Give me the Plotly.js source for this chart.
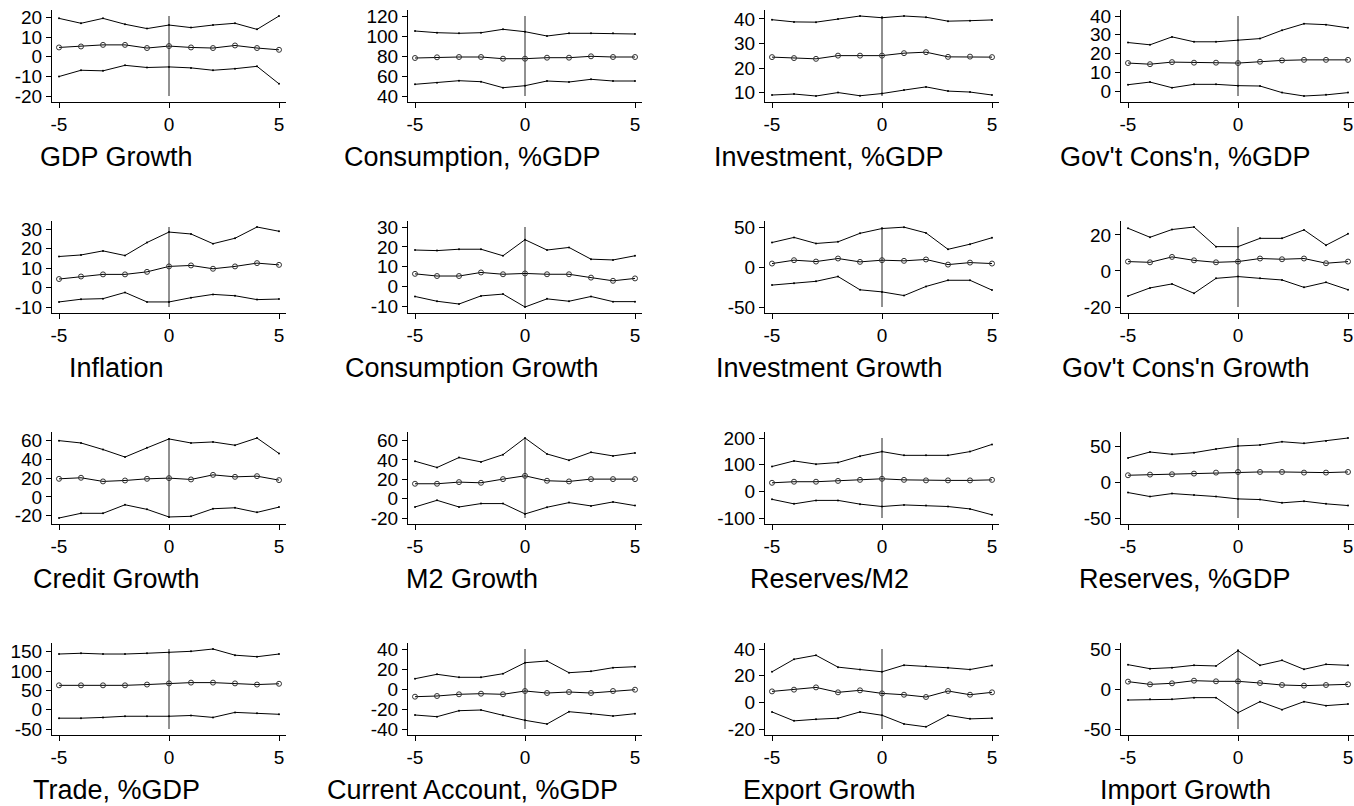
<!DOCTYPE html>
<html>
<head>
<meta charset="utf-8">
<script src="https://cdn.plot.ly/plotly-3.0.1.min.js"></script>
<style>html,body{margin:0;padding:0;background:#fff;}#chart{width:1354px;height:806px;}</style>
</head>
<body>
<div id="chart"></div>
<script>
// ---------------- DATA ----------------
const years = [-5, -4, -3, -2, -1, 0, 1, 2, 3, 4, 5];

const panelTitles = ["GDP Growth", "Consumption, %GDP", "Investment, %GDP", "Gov't Cons'n, %GDP",
  "Inflation", "Consumption Growth", "Investment Growth", "Gov't Cons'n Growth",
  "Credit Growth", "M2 Growth", "Reserves/M2", "Reserves, %GDP",
  "Trade, %GDP", "Current Account, %GDP", "Export Growth", "Import Growth"];

// GDP Growth
const gdpUp  = [19.5, 17.0, 19.5, 16.5, 14.3, 16.1, 14.8, 16.1, 17.0, 13.9, 20.7];
const gdpMid = [4.7, 5.2, 6.0, 6.0, 4.4, 5.4, 4.7, 4.4, 5.7, 4.4, 3.5];
const gdpLo  = [-10.1, -6.9, -7.2, -4.4, -5.5, -5.2, -5.7, -6.9, -6.1, -4.9, -13.8];
const gdpTicks = [-20, -10, 0, 10, 20];
// Consumption, %GDP
const consUp  = [105.0, 103.3, 102.7, 103.3, 106.7, 104.3, 100.0, 102.7, 102.7, 102.7, 102.0];
const consMid = [78.0, 78.7, 79.0, 79.0, 77.3, 77.3, 78.3, 78.3, 79.7, 79.0, 79.0];
const consLo  = [51.7, 53.3, 55.3, 54.3, 48.3, 50.3, 55.0, 54.0, 56.7, 55.0, 55.0];
const consTicks = [40, 60, 80, 100, 120];
// Investment, %GDP
const invUp  = [39.7, 38.8, 38.7, 40.0, 41.2, 40.5, 41.2, 40.7, 39.1, 39.3, 39.6];
const invMid = [24.5, 24.1, 23.8, 25.1, 25.1, 25.1, 26.1, 26.5, 24.6, 24.7, 24.5];
const invLo  = [9.1, 9.5, 8.7, 10.1, 8.8, 9.7, 11.1, 12.4, 10.7, 10.3, 9.1];
const invTicks = [10, 20, 30, 40];
// Gov't Cons'n, %GDP
const govUp  = [25.9, 24.7, 28.9, 26.3, 26.3, 27.1, 28.0, 32.4, 35.9, 35.4, 33.7];
const govMid = [15.0, 14.4, 15.5, 15.2, 15.2, 15.0, 15.7, 16.4, 16.7, 16.7, 16.7];
const govLo  = [3.5, 4.9, 1.9, 3.7, 3.7, 3.0, 2.8, -0.7, -2.5, -1.9, -0.7];
const govTicks = [0, 10, 20, 30, 40];
// Inflation
const inflUp  = [16.0, 16.8, 18.9, 16.5, 23.2, 28.6, 27.6, 22.6, 25.4, 31.2, 29.0];
const inflMid = [4.4, 5.7, 6.8, 6.8, 8.1, 10.9, 11.4, 9.7, 10.9, 12.6, 11.7];
const inflLo  = [-7.4, -6.0, -5.7, -2.5, -7.4, -7.4, -5.2, -3.5, -4.2, -6.2, -5.9];
const inflTicks = [-10, 0, 10, 20, 30];
// Consumption Growth
const cgUp  = [18.4, 18.1, 18.8, 18.8, 15.5, 23.6, 18.4, 19.7, 13.8, 13.4, 15.5];
const cgMid = [6.4, 5.3, 5.3, 7.1, 6.2, 6.6, 6.2, 6.2, 4.5, 2.9, 4.1];
const cgLo  = [-5.0, -7.4, -8.8, -4.7, -3.8, -10.3, -6.2, -7.4, -5.0, -7.6, -7.6];
const cgTicks = [-10, 0, 10, 20, 30];
// Investment Growth
const igUp  = [30.6, 37.0, 29.4, 31.5, 42.1, 48.1, 49.8, 42.6, 22.1, 28.5, 36.6];
const igMid = [4.3, 8.5, 6.8, 10.6, 6.4, 8.5, 7.7, 9.4, 3.0, 5.5, 4.3];
const igLo  = [-22.6, -20.4, -17.9, -11.9, -28.5, -31.1, -35.7, -24.3, -16.6, -16.6, -28.9];
const igTicks = [-50, 0, 50];
// Gov't Cons'n Growth
const ggUp  = [23.7, 18.7, 23.0, 24.4, 13.5, 13.5, 18.1, 18.1, 22.8, 14.3, 20.6];
const ggMid = [5.2, 4.8, 7.8, 5.9, 4.8, 5.2, 6.9, 6.5, 6.9, 4.3, 5.2];
const ggLo  = [-13.9, -9.4, -7.2, -12.4, -4.1, -3.1, -4.1, -5.0, -9.1, -6.3, -10.4];
const ggTicks = [-20, 0, 20];
// Credit Growth
const crUp  = [60.0, 57.5, 50.5, 42.5, 52.3, 61.8, 57.5, 58.6, 55.1, 62.8, 46.3];
const crMid = [19.3, 20.4, 16.5, 17.5, 19.3, 20.0, 18.6, 23.5, 21.4, 22.1, 17.9];
const crLo  = [-22.5, -17.5, -17.5, -8.4, -13.3, -21.4, -20.7, -12.6, -11.6, -16.5, -10.9];
const crTicks = [-20, 0, 20, 40, 60];
// M2 Growth
const m2Up  = [38.7, 32.2, 42.5, 38.0, 45.5, 62.7, 46.2, 39.7, 47.9, 44.2, 47.3];
const m2Mid = [15.4, 15.4, 17.1, 16.4, 20.2, 23.6, 18.5, 17.8, 20.2, 20.2, 20.2];
const m2Lo  = [-8.6, -1.7, -8.6, -5.1, -5.1, -15.8, -8.9, -4.1, -7.5, -3.4, -7.2];
const m2Ticks = [-20, 0, 20, 40, 60];
// Reserves/M2
const rmUp  = [93, 114, 102, 108, 132, 149, 135, 135, 135, 149, 176];
const rmMid = [32, 36, 36, 39, 43, 47, 43, 41, 41, 41, 43];
const rmLo  = [-30, -47, -34, -34, -48, -57, -51, -53, -57, -66, -88];
const rmTicks = [-100, 0, 100, 200];
// Reserves, %GDP
const rgUp  = [34.0, 42.3, 39.1, 41.4, 46.5, 50.7, 52.1, 56.7, 54.4, 57.7, 61.9];
const rgMid = [9.8, 10.7, 11.2, 12.1, 13.5, 14.4, 14.4, 14.4, 13.5, 13.5, 14.4];
const rgLo  = [-14.4, -20.0, -15.8, -17.7, -20.0, -23.3, -24.2, -28.8, -26.5, -30.2, -32.6];
const rgTicks = [-50, 0, 50];
// Trade, %GDP
const trUp  = [144, 146, 144, 144, 146, 148, 151, 157, 141, 137, 144];
const trMid = [63, 63, 63, 63, 65, 68, 70, 70, 68, 65, 67];
const trLo  = [-22, -22, -20, -17, -17, -17, -15, -20, -7, -9, -12];
const trTicks = [-50, 0, 50, 100, 150];
// Current Account, %GDP
const caUp  = [10.3, 14.7, 11.7, 11.7, 15.3, 26.3, 28.0, 16.3, 17.7, 21.3, 22.3];
const caMid = [-7.7, -7.0, -5.3, -4.7, -5.3, -2.0, -4.0, -3.0, -4.0, -2.0, -0.7];
const caLo  = [-26.0, -27.7, -21.7, -21.0, -26.3, -31.3, -35.0, -22.7, -24.7, -27.0, -24.7];
const caTicks = [-40, -20, 0, 20, 40];
// Export Growth
const exUp  = [22.9, 32.3, 35.3, 26.4, 24.6, 22.9, 27.9, 27.1, 25.9, 24.6, 27.6];
const exMid = [8.2, 9.5, 11.2, 7.5, 9.0, 6.7, 5.7, 4.0, 8.5, 5.7, 7.5];
const exLo  = [-7.2, -13.9, -12.7, -11.9, -7.2, -9.7, -16.2, -18.4, -9.7, -12.4, -11.9];
const exTicks = [-20, 0, 20, 40];
// Import Growth
const imUp  = [30.4, 25.4, 26.7, 29.6, 28.8, 47.9, 29.6, 35.8, 24.6, 30.8, 29.6];
const imMid = [9.2, 5.8, 7.1, 10.4, 9.6, 9.6, 7.5, 5.0, 4.2, 5.0, 5.8];
const imLo  = [-13.8, -12.9, -12.9, -10.8, -10.8, -29.6, -15.8, -25.8, -15.8, -20.8, -18.8];
const imTicks = [-50, 0, 50];

const xTicks = [-5, 0, 5];

const panelUp   = [gdpUp, consUp, invUp, govUp, inflUp, cgUp, igUp, ggUp, crUp, m2Up, rmUp, rgUp, trUp, caUp, exUp, imUp];
const panelMid  = [gdpMid, consMid, invMid, govMid, inflMid, cgMid, igMid, ggMid, crMid, m2Mid, rmMid, rgMid, trMid, caMid, exMid, imMid];
const panelLo   = [gdpLo, consLo, invLo, govLo, inflLo, cgLo, igLo, ggLo, crLo, m2Lo, rmLo, rgLo, trLo, caLo, exLo, imLo];
const panelTicks = [gdpTicks, consTicks, invTicks, govTicks, inflTicks, cgTicks, igTicks, ggTicks, crTicks, m2Ticks, rmTicks, rgTicks, trTicks, caTicks, exTicks, imTicks];

// ---------------- LAYOUT GEOMETRY ----------------
const W = 1354, H = 806;
const colLeft = [52, 408, 765, 1121];   // y-axis line x (px)
const rowTop0 = 10, rowPitch = 211, plotH = 92, plotW = 234;
const pxPerX = 22;                       // px per x unit
const padPx = 6;
const titleOffsetX = 64, titleY0 = 157;
const FONT = "Liberation Sans, Arial, Helvetica, sans-serif";

const traces = [];
const layout = {
  width: W, height: H, autosize: false,
  margin: {l: 0, r: 0, t: 0, b: 0, pad: 0},
  paper_bgcolor: "#fff", plot_bgcolor: "#fff",
  showlegend: false,
  font: {family: FONT, color: "#000"},
  annotations: []
};

for (let i = 0; i < 16; i++) {
  const r = Math.floor(i / 4), c = i % 4;
  const sfx = i === 0 ? "" : String(i + 1);
  const xa = "x" + sfx, ya = "y" + sfx;
  const L = colLeft[c];
  const R = Math.min(L + plotW, W);
  const T = rowTop0 + rowPitch * r;
  const B = T + plotH;

  const all = panelUp[i].concat(panelMid[i], panelLo[i], panelTicks[i]);
  const lo = Math.min(...all), hi = Math.max(...all);
  const pad = (hi - lo) * padPx / (plotH - 2 * padPx);
  const x0 = -5 - 7 / pxPerX;

  layout["xaxis" + sfx] = {
    domain: [L / W, R / W], range: [x0, x0 + (R - L) / pxPerX],
    anchor: ya, tickvals: xTicks, ticktext: xTicks.map(String),
    ticks: "outside", ticklen: 5, tickwidth: 1, tickcolor: "#000",
    showline: true, linecolor: "#000", linewidth: 1,
    showgrid: false, zeroline: false, fixedrange: true,
    tickfont: {family: FONT, size: 19, color: "#000"}
  };
  layout["yaxis" + sfx] = {
    domain: [1 - B / H, 1 - T / H], range: [lo - pad, hi + pad],
    anchor: xa, tickvals: panelTicks[i], ticktext: panelTicks[i].map(String),
    ticks: "outside", ticklen: 5, tickwidth: 1, tickcolor: "#000",
    showline: true, linecolor: "#000", linewidth: 1,
    showgrid: false, zeroline: false, fixedrange: true,
    tickfont: {family: FONT, size: 19, color: "#000"}
  };

  // vertical line at x = 0, spanning data/tick range
  traces.push({x: [0, 0], y: [lo, hi], xaxis: xa, yaxis: ya, mode: "lines",
    line: {color: "#222", width: 1}, hoverinfo: "skip"});
  traces.push({x: years, y: panelUp[i], xaxis: xa, yaxis: ya, mode: "lines+markers",
    line: {color: "#000", width: 1}, marker: {size: 2, color: "#000"}});
  traces.push({x: years, y: panelLo[i], xaxis: xa, yaxis: ya, mode: "lines+markers",
    line: {color: "#000", width: 1}, marker: {size: 2, color: "#000"}});
  traces.push({x: years, y: panelMid[i], xaxis: xa, yaxis: ya, mode: "lines+markers",
    line: {color: "#000", width: 1},
    marker: {symbol: "circle-open", size: 5, color: "#333", line: {width: 1, color: "#333"}}});

  layout.annotations.push({
    text: panelTitles[i], xref: "paper", yref: "paper",
    x: (L + titleOffsetX) / W, y: 1 - (titleY0 + rowPitch * r) / H,
    xanchor: "center", yanchor: "middle", showarrow: false,
    font: {family: FONT, size: 27, color: "#000"}
  });
}

Plotly.newPlot("chart", traces, layout, {staticPlot: true, displayModeBar: false});
</script>
</body>
</html>
